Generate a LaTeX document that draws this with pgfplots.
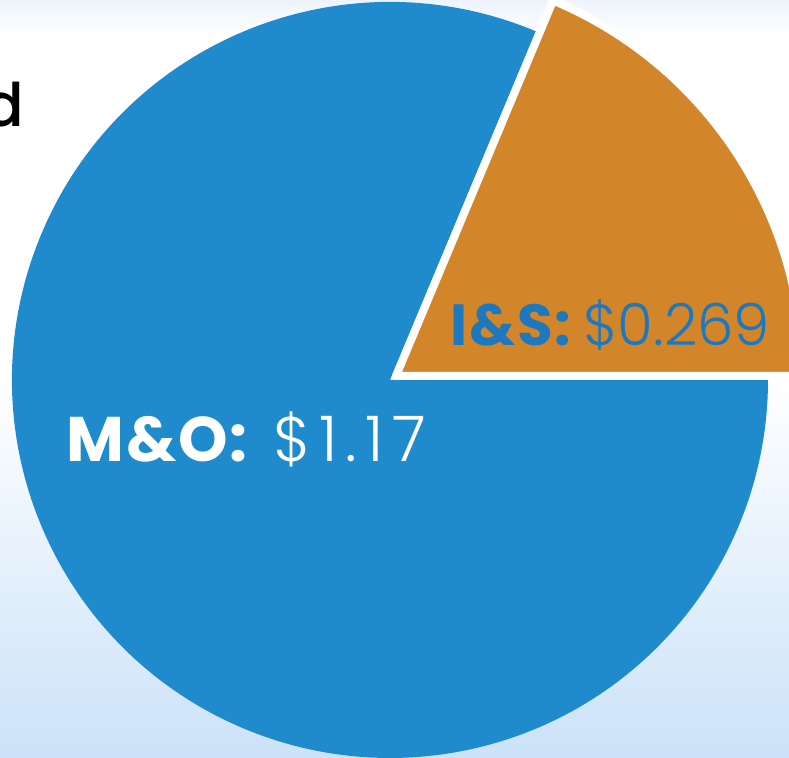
\documentclass[border=0pt]{standalone}
\usepackage{pgfplots}
\pgfplotsset{compat=1.18}
\usepackage{pgfplotstable}
\usepackage{fontspec}
\setmainfont{Liberation Sans}
\newfontfamily\popb{Poppins Bold}[LetterSpace=3]
\newfontfamily\popl{Poppins Light}
\newfontfamily\popls{Poppins Light}[LetterSpace=13]
\newfontfamily\popm{Poppins Medium}
\definecolor{pieblue}{HTML}{1F8BCD}
\definecolor{pieorange}{HTML}{D3852A}
\definecolor{labelblue}{HTML}{1E78BE}
\definecolor{bgtop}{HTML}{EEF4FB}
\definecolor{bgbot}{HTML}{CBE2F8}
\pgfplotstableread{
part value
MO 1.17
IS 0.269
}\piedata
\begin{document}
\begin{tikzpicture}
\pgfplotstablegetelem{0}{value}\of\piedata \let\vmo\pgfplotsretval
\pgfplotstablegetelem{1}{value}\of\piedata \let\vis\pgfplotsretval
\pgfmathsetmacro\angis{360*\vis/(\vmo+\vis)}
\begin{axis}[hide axis, scale only axis, width=394.5pt, height=379pt,
  xmin=0, xmax=789, ymin=0, ymax=758, clip=true]
\addplot[draw=none] coordinates {(0,0) (789,758)};
% background
\fill[top color=white, bottom color=bgbot] (axis cs:0,0) rectangle (axis cs:789,380);
\fill[white] (axis cs:0,379) rectangle (axis cs:789,721);
\fill[top color=bgtop, bottom color=white] (axis cs:0,720) rectangle (axis cs:789,758);
% M&O slice
\fill[pieblue] (axis cs:390,378) -- ++(\angis:189pt)
  arc[start angle=\angis, end angle=360, radius=189pt] -- cycle;
% I&S slice (exploded)
\filldraw[fill=pieorange, draw=white, line width=4pt, line join=round]
  (axis cs:396,382) -- ++(0:203.5pt)
  arc[start angle=0, end angle=\angis, radius=203.5pt] -- cycle;
% labels
\node[anchor=base west, inner sep=0pt, text=white] at (axis cs:66,296)
  {\fontsize{31.5}{32}\selectfont\popb M\&O:\hspace{13pt}\popls\$1.17};
\node[anchor=base west, inner sep=0pt, text=labelblue] at (axis cs:450,412)
  {\fontsize{29}{30}\selectfont\popb I\&S:\hspace{6pt}\popl\$0.269};
\node[anchor=base east, inner sep=0pt, text=black] at (axis cs:25,631)
  {\fontsize{30}{30}\selectfont\popm d};
\end{axis}
\pgfresetboundingbox
\path (current axis.south west) rectangle (current axis.north east);
\end{tikzpicture}
\end{document}
